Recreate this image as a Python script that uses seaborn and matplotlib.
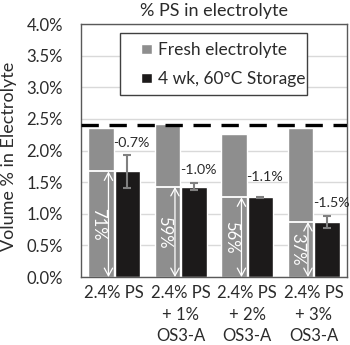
import numpy as np
import pandas as pd
import matplotlib
matplotlib.use("Agg")
import matplotlib.pyplot as plt
from matplotlib.patches import Rectangle
import seaborn as sns

# ---- data ----
categories = ["2.4% PS", "2.4% PS\n+ 1%\nOS3-A", "2.4% PS\n+ 2%\nOS3-A", "2.4% PS\n+ 3%\nOS3-A"]
series = ["Fresh electrolyte", "4 wk, 60°C Storage"]
fresh = [2.35, 2.42, 2.26, 2.35]
stored = [1.67, 1.425, 1.26, 0.87]
stored_err = [0.26, 0.055, 0.01, 0.09]
retained_labels = ["71%", "59%", "56%", "37%"]
change_labels = ["-0.7%", "-1.0%", "-1.1%", "-1.5%"]
change_label_y = [2.12, 1.70, 1.59, 1.17]
initial_ps = 2.4
yticks = [0.0, 0.5, 1.0, 1.5, 2.0, 2.5, 3.0, 3.5, 4.0]
ytick_labels = [f"{v:.1f}%" for v in yticks]

# ---- style ----
sns.set_style("white")
plt.rcParams["font.family"] = ["Lato", "DejaVu Sans"]
text_col = "#2b2b2b"
fresh_col = "#8e8e8e"
stored_col = "#1c1a1a"

df = pd.DataFrame({
    "cat": categories * 2,
    "series": [series[0]] * len(categories) + [series[1]] * len(categories),
    "value": fresh + stored,
})

fig = plt.figure(figsize=(3.5, 3.45), dpi=100)
ax = fig.add_axes([0.231, 0.197, 0.76, 0.733])

sns.barplot(data=df, x="cat", y="value", hue="series", order=categories,
            hue_order=series, palette=[fresh_col, stored_col], saturation=1,
            width=0.8, gap=0.04, errorbar=None, ax=ax, zorder=2)

fresh_bars = ax.containers[0]
stored_bars = ax.containers[1]

# error bars on stored bars
for p, v, e in zip(stored_bars, stored, stored_err):
    xc = p.get_x() + p.get_width() / 2
    ax.errorbar(xc, v, yerr=e, color="#808080", lw=1.5, capsize=2.8,
                capthick=1.5, zorder=4)

# white marker line, arrow and retained % in fresh bars
for p, v, lab in zip(fresh_bars, stored, retained_labels):
    x0 = p.get_x()
    w = p.get_width()
    ax.hlines(v, x0, x0 + w, color="white", lw=1.3, zorder=3)
    xa = x0 + 0.8 * w
    ax.annotate("", xy=(xa, 0.0), xytext=(xa, v),
                arrowprops=dict(arrowstyle="<->,head_length=0.55,head_width=0.3",
                                color="white", lw=0.9, shrinkA=0, shrinkB=0),
                zorder=3)
    ax.text(x0 + 0.39 * w, v / 2, lab, rotation=270, ha="center", va="center",
            color="white", fontsize=12, zorder=3)

# change labels
for p, lab, ly in zip(fresh_bars, change_labels, change_label_y):
    ax.text(p.get_x() + p.get_width(), ly, lab, ha="left", va="center",
            color=text_col, fontsize=10.3, zorder=5)

# initial PS level
ax.axhline(initial_ps, color="black", lw=2.4, linestyle=(0, (5.2, 3.2)), zorder=5)

# axes formatting
ax.set_ylim(0, 4.0)
ax.set_xlim(-0.5, len(categories) - 0.5)
ax.set_yticks(yticks)
ax.set_yticklabels(ytick_labels)
ax.yaxis.grid(True, color="#d9d9d9", lw=1)
ax.set_axisbelow(True)
ax.tick_params(axis="y", length=0, pad=13, labelsize=12, labelcolor=text_col)
ax.set_xticks(range(len(categories)))
ax.set_xticklabels(categories, linespacing=1.4)
ax.set_xticks(np.arange(-0.5, len(categories)), minor=True)
ax.tick_params(axis="x", which="major", length=0, pad=6, labelsize=12, labelcolor=text_col)
ax.tick_params(axis="x", which="minor", length=4, width=1, color="#808080", direction="out")
ax.set_xlabel("")
ax.set_ylabel("Volume % in Electrolyte", fontsize=13, color=text_col)
ax.yaxis.set_label_coords(-0.24, 0.478)
ax.set_title("% PS in electrolyte", fontsize=13, color=text_col, pad=6)
for s in ax.spines.values():
    s.set_visible(True)
    s.set_color("#595959")
    s.set_linewidth(1)

# legend: Excel-like box drawn separately
ax.add_patch(Rectangle((0.149, 0.719), 0.70, 0.245, transform=ax.transAxes,
                       facecolor="white", edgecolor="#404040", lw=1, zorder=6))
leg = ax.legend(loc="upper left", bbox_to_anchor=(0.228, 0.93), frameon=False,
                fontsize=12.5, handlelength=0.6, handleheight=0.5,
                handletextpad=0.36, labelspacing=0.75, borderpad=0,
                borderaxespad=0)
leg.set_zorder(7)
for t in leg.get_texts():
    t.set_color(text_col)

fig.savefig("out.png", dpi=100)
